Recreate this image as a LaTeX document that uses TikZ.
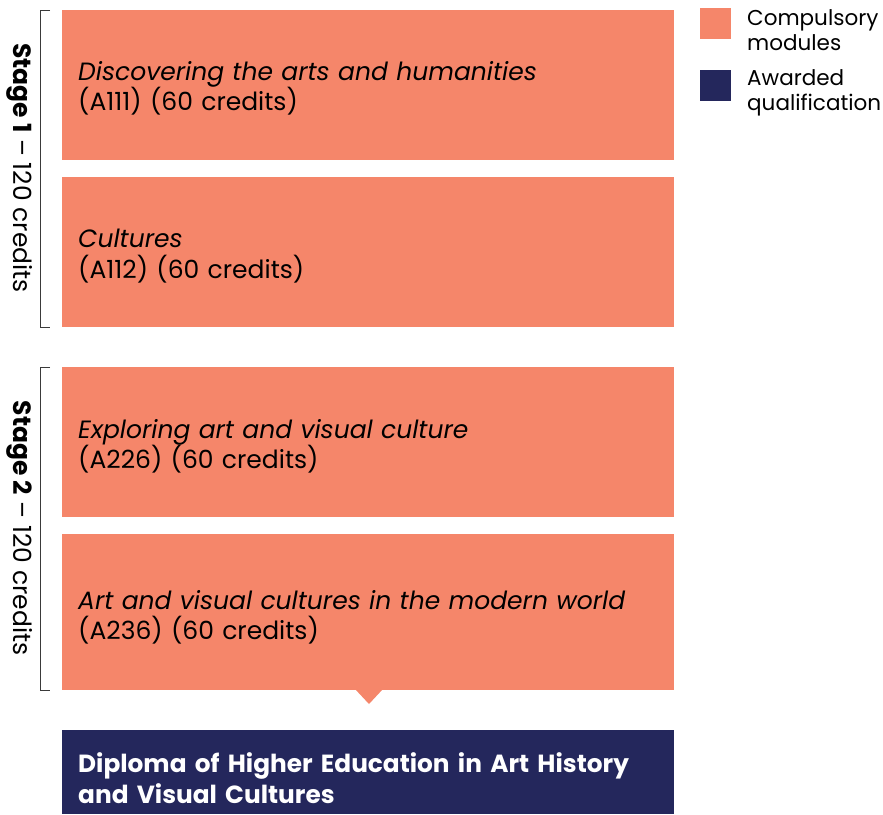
\documentclass[tikz,border=0pt]{standalone}
\usepackage{fontspec}
\setmainfont{Poppins}
\usepackage{tikz}

\definecolor{modorange}{HTML}{F5866A}
\definecolor{qualnavy}{HTML}{24275C}
\definecolor{bracketgray}{HTML}{3A3A3A}

\begin{document}
\begin{tikzpicture}[x=1pt,y=-1pt,
  modbox/.style={fill=modorange,anchor=north west,minimum width=612pt,minimum height=150pt,inner sep=0pt},
  modtext/.style={anchor=west,text width=580pt,inner sep=0pt,align=left,font=\fontsize{25}{30.5}\selectfont},
  qualbox/.style={fill=qualnavy,anchor=north west,minimum width=612pt,minimum height=84pt,inner sep=0pt},
  qualtext/.style={anchor=west,text=white,text width=580pt,inner sep=0pt,align=left,font=\fontsize{24.8}{31}\selectfont\bfseries},
  stagelabel/.style={rotate=-90,font=\fontsize{25}{30}\selectfont},
  legkey/.style={minimum size=31pt,inner sep=0pt,anchor=north west},
  legtext/.style={anchor=north west,align=left,inner sep=0pt,font=\fontsize{21.5}{25.5}\selectfont}]
\useasboundingbox (0,0) rectangle (883,814);
% modules
\node[modbox] (a111) at (62,10) {};
\node[modtext] (t111) at ([xshift=16pt,yshift=-3pt]a111.west) {\textit{Discovering the arts and humanities}\\(A111) (60 credits)};
\node[modbox] (a112) at (62,177) {};
\node[modtext] (t112) at ([xshift=16pt,yshift=-4pt]a112.west) {\textit{Cultures}\\(A112) (60 credits)};
\node[modbox] (a226) at (62,367) {};
\node[modtext] (t226) at ([xshift=16pt,yshift=-4pt]a226.west) {\textit{Exploring art and visual culture}\\(A226) (60 credits)};
\node[modbox,minimum height=156pt] (a236) at (62,534) {};
\node[modtext] (t236) at ([xshift=16pt,yshift=-5pt]a236.west) {\textit{Art and visual cultures in the modern world}\\(A236) (60 credits)};
\fill[modorange] (355,689) -- (383,689) -- (369,704) -- cycle;
\node[qualbox] (dipl) at (62,730) {};
\node[qualtext] (tdipl) at ([xshift=16pt,yshift=-6pt]dipl.west) {Diploma of Higher Education in Art History\\and Visual Cultures};
% stage brackets
\draw[bracketgray,thick] (50,10) -- (40,10) -- (40,327) -- (50,327);
\node[stagelabel] (stage1) at (20,168) {\textbf{Stage 1} -- 120 credits};
\draw[bracketgray,thick] (50,367) -- (40,367) -- (40,690) -- (50,690);
\node[stagelabel] (stage2) at (20,528) {\textbf{Stage 2} -- 120 credits};
% legend
\node[legkey,fill=modorange] (keymod) at (700,8) {};
\node[legtext] (txtmod) at (747,9) {Compulsory\\modules};
\node[legkey,fill=qualnavy] (keyqual) at (700,70) {};
\node[legtext] (txtqual) at (747,69) {Awarded\\qualification};
\end{tikzpicture}
\end{document}
